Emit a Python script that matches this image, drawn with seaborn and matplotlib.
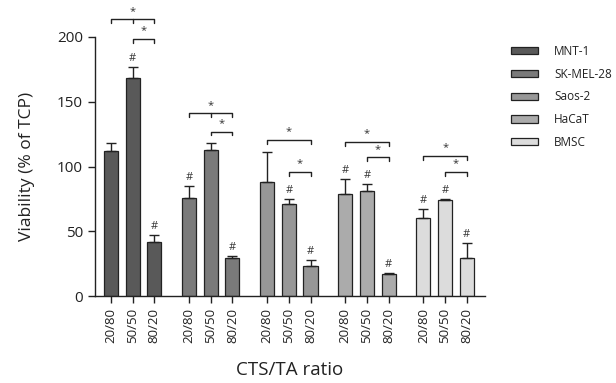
import numpy as np
import pandas as pd
import matplotlib
matplotlib.use("Agg")
import matplotlib.pyplot as plt
import seaborn as sns

# data
cells = ["MNT-1", "SK-MEL-28", "Saos-2", "HaCaT", "BMSC"]
ratios = ["20/80", "50/50", "80/20"]
colors = ["#595959", "#7a7a7a", "#979797", "#ababab", "#dcdcdc"]

mnt1 = [112, 168.5, 41.5]
skmel28 = [76, 112.5, 29]
saos2 = [88, 71, 23]
hacat = [79, 81, 17]
bmsc = [60, 74, 29]

mnt1_sd = [6, 8.5, 5.5]
skmel28_sd = [9, 5.5, 2]
saos2_sd = [23, 4, 5]
hacat_sd = [11, 5.5, 1]
bmsc_sd = [7, 1, 12]

# "#" = significant vs TCP
mnt1_hash = [False, True, True]
skmel28_hash = [True, False, True]
saos2_hash = [False, True, True]
hacat_hash = [True, True, True]
bmsc_hash = [True, True, True]

# "*" brackets: 20/80 vs 80/20 (big) and 50/50 vs 80/20 (small)
big_bracket_y = [213.5, 141, 120.5, 119, 108]
small_bracket_y = [198.5, 127, 96, 107, 96]
middle_tick = [True, True, False, False, False]

values = [mnt1, skmel28, saos2, hacat, bmsc]
sds = [mnt1_sd, skmel28_sd, saos2_sd, hacat_sd, bmsc_sd]
hashes = [mnt1_hash, skmel28_hash, saos2_hash, hacat_hash, bmsc_hash]

group_step = 3.6
rows = []
for g, cell in enumerate(cells):
    for j, r in enumerate(ratios):
        rows.append({"cell": cell, "ratio": r, "pos": g * group_step + j,
                     "value": values[g][j], "sd": sds[g][j], "hash": hashes[g][j]})
df = pd.DataFrame(rows)

sns.set_style("ticks")
plt.rcParams["font.family"] = ["Open Sans", "DejaVu Sans"]

fig = plt.figure(figsize=(6.16, 3.83), dpi=100)
ax = fig.add_axes([0.154, 0.227, 0.633, 0.761])

sns.barplot(data=df, x="pos", y="value", hue="cell", hue_order=cells,
            palette=colors, native_scale=True, dodge=False, width=0.65,
            edgecolor="#222222", linewidth=0.9, errorbar=None, ax=ax)

ax.errorbar(df["pos"], df["value"], yerr=[np.zeros(len(df)), df["sd"]],
            fmt="none", ecolor="#222222", elinewidth=1, capsize=3.5, capthick=1, zorder=1)

for _, row in df.iterrows():
    if row["hash"]:
        ax.text(row["pos"], row["value"] + row["sd"] + 2.5, "#", ha="center", va="bottom",
                fontsize=8, color="#333333")

tick_h = 3
for g in range(len(cells)):
    x0, x1, x2 = g * group_step, g * group_step + 1, g * group_step + 2
    yb = big_bracket_y[g]
    ax.plot([x0, x0, x2, x2], [yb - tick_h, yb, yb, yb - tick_h], color="#222222", lw=1, clip_on=False)
    if middle_tick[g]:
        ax.plot([x1, x1], [yb, yb - tick_h], color="#222222", lw=1, clip_on=False)
    ax.text(x1, yb + 2, "*", ha="center", va="bottom", fontsize=8, color="#333333")
    ys = small_bracket_y[g]
    ax.plot([x1, x1, x2, x2], [ys - tick_h, ys, ys, ys - tick_h], color="#222222", lw=1, clip_on=False)
    ax.text((x1 + x2) / 2, ys + 2, "*", ha="center", va="bottom", fontsize=8, color="#333333")

ax.set_xlim(-0.74, 4 * group_step + 2 + 0.83)
ax.set_ylim(0, 225)
ax.set_xticks(df["pos"])
ax.set_xticklabels(df["ratio"], rotation=90, fontsize=9.5)
ax.set_yticks([0, 50, 100, 150, 200])
ax.tick_params(axis="y", labelsize=11, length=5, width=1, color="#222222", labelcolor="#222222")
ax.tick_params(axis="x", length=5, width=1, color="#222222", labelcolor="#222222")
ax.spines["left"].set_bounds(0, 200)
sns.despine(ax=ax)
for s in ["left", "bottom"]:
    ax.spines[s].set_color("#222222")
    ax.spines[s].set_linewidth(1)

ax.set_xlabel("CTS/TA ratio", fontsize=13.5, labelpad=13, color="#222222")
ax.set_ylabel("Viability (% of TCP)", fontsize=12.5, color="#222222")
ax.yaxis.set_label_coords(-0.154, 100 / 225)

handles, labels = ax.get_legend_handles_labels()
ax.legend(handles, labels, loc="upper left", bbox_to_anchor=(0.812, 0.91),
          bbox_transform=fig.transFigure, frameon=False, fontsize=8.5,
          handlelength=2.3, handleheight=0.55, labelspacing=0.82, handletextpad=1.35,
          labelcolor="#222222")

fig.savefig("out.png", dpi=100)
